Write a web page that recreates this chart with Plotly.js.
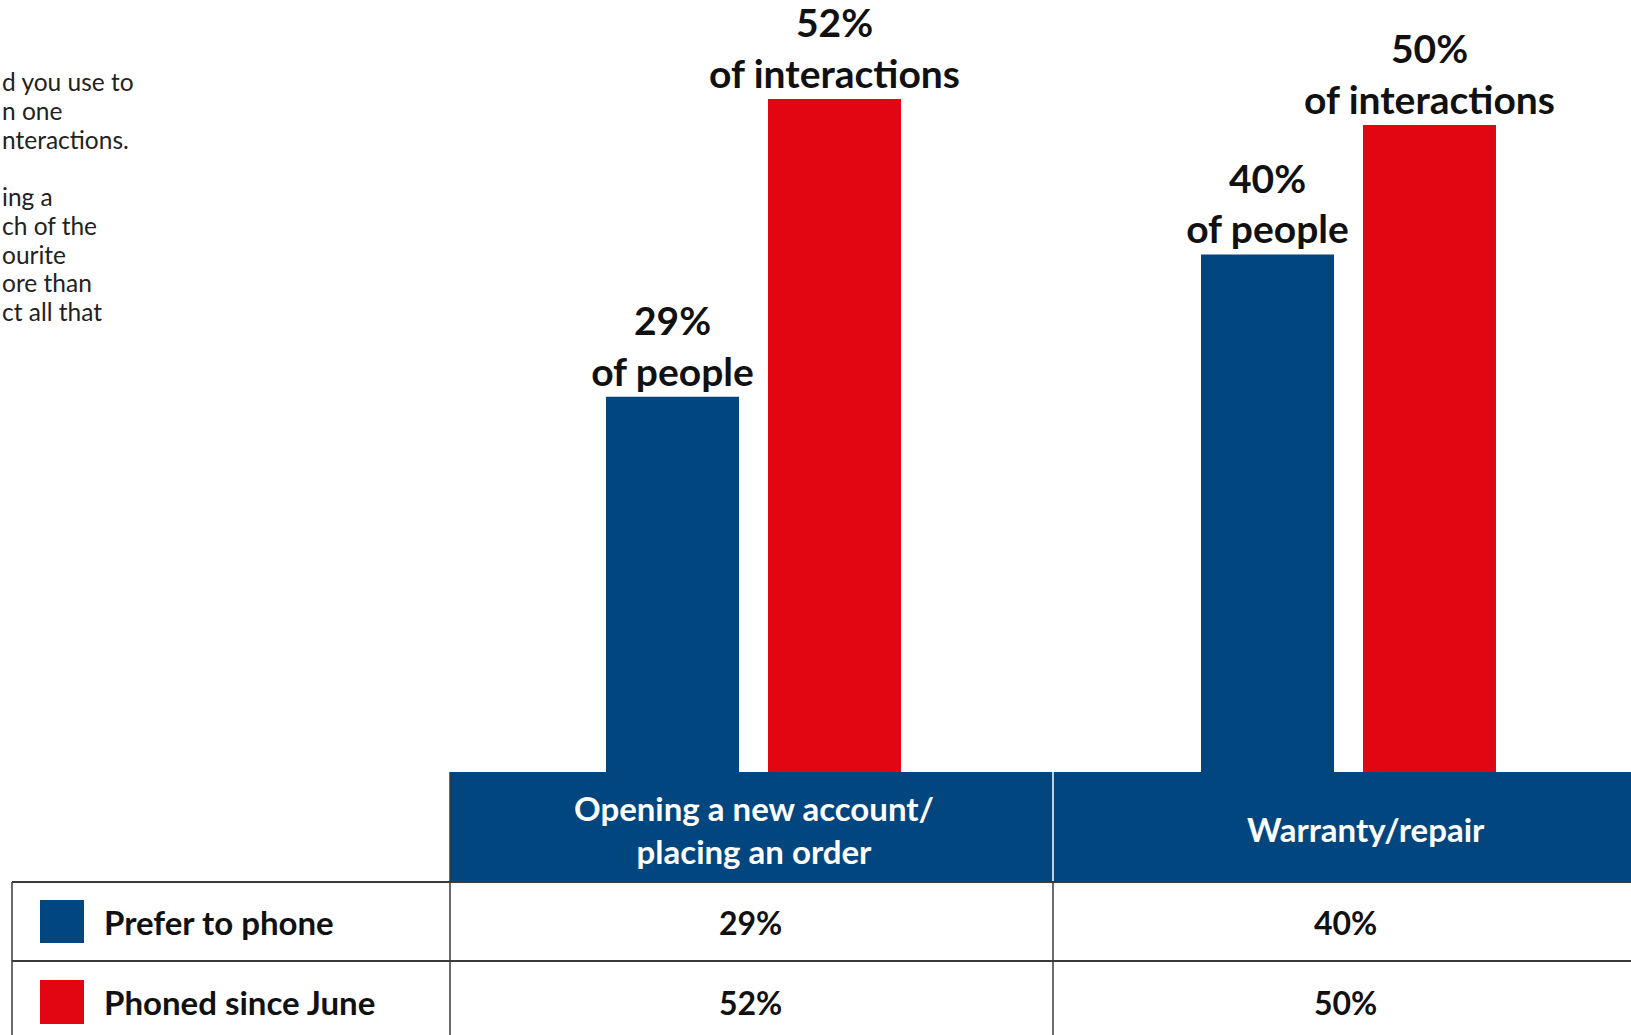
<!DOCTYPE html>
<html>
<head>
<meta charset="utf-8">
<script src="https://cdn.plot.ly/plotly-3.0.1.min.js"></script>
<style>
html,body{margin:0;padding:0;background:#fff;}
#chart{width:1631px;height:1035px;}
</style>
</head>
<body>
<div id="chart"></div>
<script>
// ---- data ----
var categories = ["Opening a new account/<br>placing an order", "Warranty/repair"];
var seriesNames = ["Prefer to phone", "Phoned since June"];
var preferToPhone = [29, 40];
var phonedSinceJune = [52, 50];
var labelSuffix = ["of people", "of interactions"];
var introLines = ["d you use to", "n one", "nteractions.", "", "ing a", "ch of the", "ourite", "ore than", "ct all that"];

var BLUE = "#02467f";
var RED = "#e20613";
var FONT = "Lato, 'Noto Sans', sans-serif";
var W = 1631, H = 1035;
function px(x){ return x / W; }
function py(y){ return 1 - y / H; }

var idx = categories.map(function(_, i){ return i; });

function barTrace(vals, name, color, suffix){
  return {
    type: "bar",
    name: name,
    x: idx,
    y: vals,
    marker: {color: color, line: {width: 0}},
    text: vals.map(function(v){ return "<b>" + v + "%<br>" + suffix + "</b>"; }),
    textposition: "outside",
    textfont: {family: FONT, size: 39, color: "#111"},
    constraintext: "none",
    cliponaxis: false,
    hoverinfo: "skip"
  };
}

var data = [
  barTrace(preferToPhone, seriesNames[0], BLUE, labelSuffix[0]),
  barTrace(phonedSinceJune, seriesNames[1], RED, labelSuffix[1])
];

// table geometry (pixels)
var headTop = 772, headBot = 882, row1Bot = 961, row2Bot = 1040;
var tLeft = 12, c1 = 450, c2 = 1053;
var lineCol = "#3a3a3a";

var shapes = [
  {type: "rect", xref: "paper", yref: "paper", x0: px(c1), x1: 1.01, y0: py(headBot), y1: py(headTop),
   fillcolor: BLUE, line: {width: 0}, layer: "below"},
  {type: "line", xref: "paper", yref: "paper", x0: px(c2), x1: px(c2), y0: py(headBot), y1: py(headTop),
   line: {color: "#ffffff", width: 1.5}},
  {type: "line", xref: "paper", yref: "paper", x0: px(tLeft), x1: 1.01, y0: py(headBot), y1: py(headBot),
   line: {color: lineCol, width: 2}},
  {type: "line", xref: "paper", yref: "paper", x0: px(tLeft), x1: 1.01, y0: py(row1Bot), y1: py(row1Bot),
   line: {color: lineCol, width: 2}},
  {type: "line", xref: "paper", yref: "paper", x0: px(tLeft), x1: px(tLeft), y0: py(row2Bot), y1: py(headBot),
   line: {color: lineCol, width: 1.5}},
  {type: "line", xref: "paper", yref: "paper", x0: px(c1), x1: px(c1), y0: py(row2Bot), y1: py(headTop),
   line: {color: lineCol, width: 1.5}},
  {type: "line", xref: "paper", yref: "paper", x0: px(c2), x1: px(c2), y0: py(row2Bot), y1: py(headBot),
   line: {color: lineCol, width: 1.5}},
  // legend swatches
  {type: "rect", xref: "paper", yref: "paper", x0: px(40), x1: px(84), y0: py(943), y1: py(900),
   fillcolor: BLUE, line: {width: 0}},
  {type: "rect", xref: "paper", yref: "paper", x0: px(40), x1: px(84), y0: py(1024), y1: py(980),
   fillcolor: RED, line: {width: 0}}
];

var annotations = [];
// header labels
categories.forEach(function(c, i){
  annotations.push({xref: "x", yref: "paper", x: i + (i === 1 ? 0.03 : 0), y: py(829), text: "<b>" + c + "</b>",
    showarrow: false, font: {family: FONT, size: 33, color: "#ffffff"}, align: "center", yanchor: "middle"});
});
// row labels
var rowY = [922, 1002];
seriesNames.forEach(function(n, r){
  annotations.push({xref: "paper", yref: "paper", x: px(102), y: py(rowY[r]), text: "<b>" + n + "</b>",
    showarrow: false, xanchor: "left", yanchor: "middle", font: {family: FONT, size: 33, color: "#111"}});
});
// cell values
[preferToPhone, phonedSinceJune].forEach(function(vals, r){
  vals.forEach(function(v, i){
    annotations.push({xref: "x", yref: "paper", x: i - 0.005, y: py(rowY[r]), text: "<b>" + v + "%</b>",
      showarrow: false, yanchor: "middle", font: {family: FONT, size: 32, color: "#111"}});
  });
});
// intro text (cut off on the left), one annotation per line
introLines.forEach(function(line, k){
  if (!line) return;
  annotations.push({xref: "paper", yref: "paper", x: 0, y: py(82 + k * 28.7), xanchor: "left", yanchor: "middle",
    text: line, align: "left", showarrow: false,
    font: {family: FONT, size: 24.5, color: "#222"}});
});

var layout = {
  width: W, height: H,
  margin: {l: 0, r: 0, t: 0, b: 0, pad: 0},
  paper_bgcolor: "#ffffff",
  plot_bgcolor: "rgba(0,0,0,0)",
  showlegend: false,
  barmode: "group",
  bargap: 0.4555,
  bargroupgap: 0.179,
  xaxis: {type: "linear", range: [-1.2664, 1.4748], showgrid: false, zeroline: false,
          showticklabels: false, showline: false, ticks: "", fixedrange: true},
  yaxis: {domain: [263 / H, 1], range: [0, 59.66], showgrid: false, zeroline: false,
          showticklabels: false, showline: false, ticks: "", fixedrange: true},
  shapes: shapes,
  annotations: annotations
};

Plotly.newPlot("chart", data, layout, {displayModeBar: false, staticPlot: true});
</script>
</body>
</html>
